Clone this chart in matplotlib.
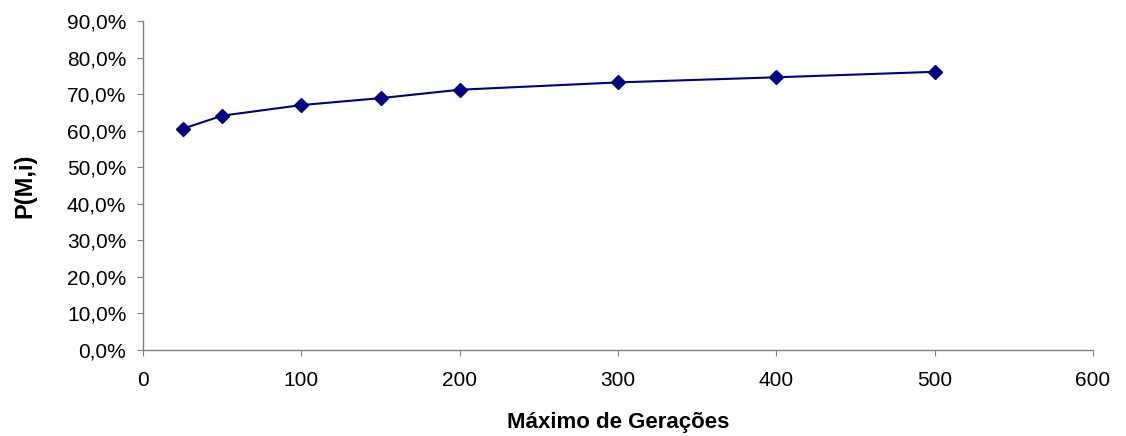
import matplotlib
matplotlib.use('Agg')
import matplotlib.pyplot as plt
from matplotlib.ticker import FuncFormatter

plt.rcParams['font.family'] = ['Liberation Sans', 'DejaVu Sans']

geracoes = [25, 50, 100, 150, 200, 300, 400, 500]
prob = [0.605, 0.641, 0.670, 0.689, 0.712, 0.732, 0.746, 0.761]

fig = plt.figure(figsize=(11.26, 4.36), dpi=100)
ax = fig.add_axes([143/1126, 1-350/436, 950/1126, 329/436])

ax.plot(geracoes, prob, '-', color='#000080', lw=1.5,
        marker='D', markersize=7, markerfacecolor='#000080', markeredgecolor='#000080')

ax.set_xlim(0, 600)
ax.set_ylim(0, 0.9)
ax.set_xticks(range(0, 601, 100))
ax.set_yticks([i/10 for i in range(10)])
ax.yaxis.set_major_formatter(FuncFormatter(lambda v, p: ('%.1f%%' % (v*100)).replace('.', ',')))

for s in ['top', 'right']:
    ax.spines[s].set_visible(False)
for s in ['left', 'bottom']:
    ax.spines[s].set_color('#808080')
    ax.spines[s].set_linewidth(1.0)
ax.tick_params(direction='out', length=4, color='#808080', labelsize=15)
ax.tick_params(axis='x', pad=11)
ax.tick_params(axis='y', pad=8)

ax.set_xlabel('Máximo de Gerações', fontsize=16, fontweight='bold', labelpad=16)
ax.set_ylabel('P(M,i)', fontsize=17, fontweight='bold', labelpad=22)

fig.savefig('out.png', dpi=100)
plt.close()
